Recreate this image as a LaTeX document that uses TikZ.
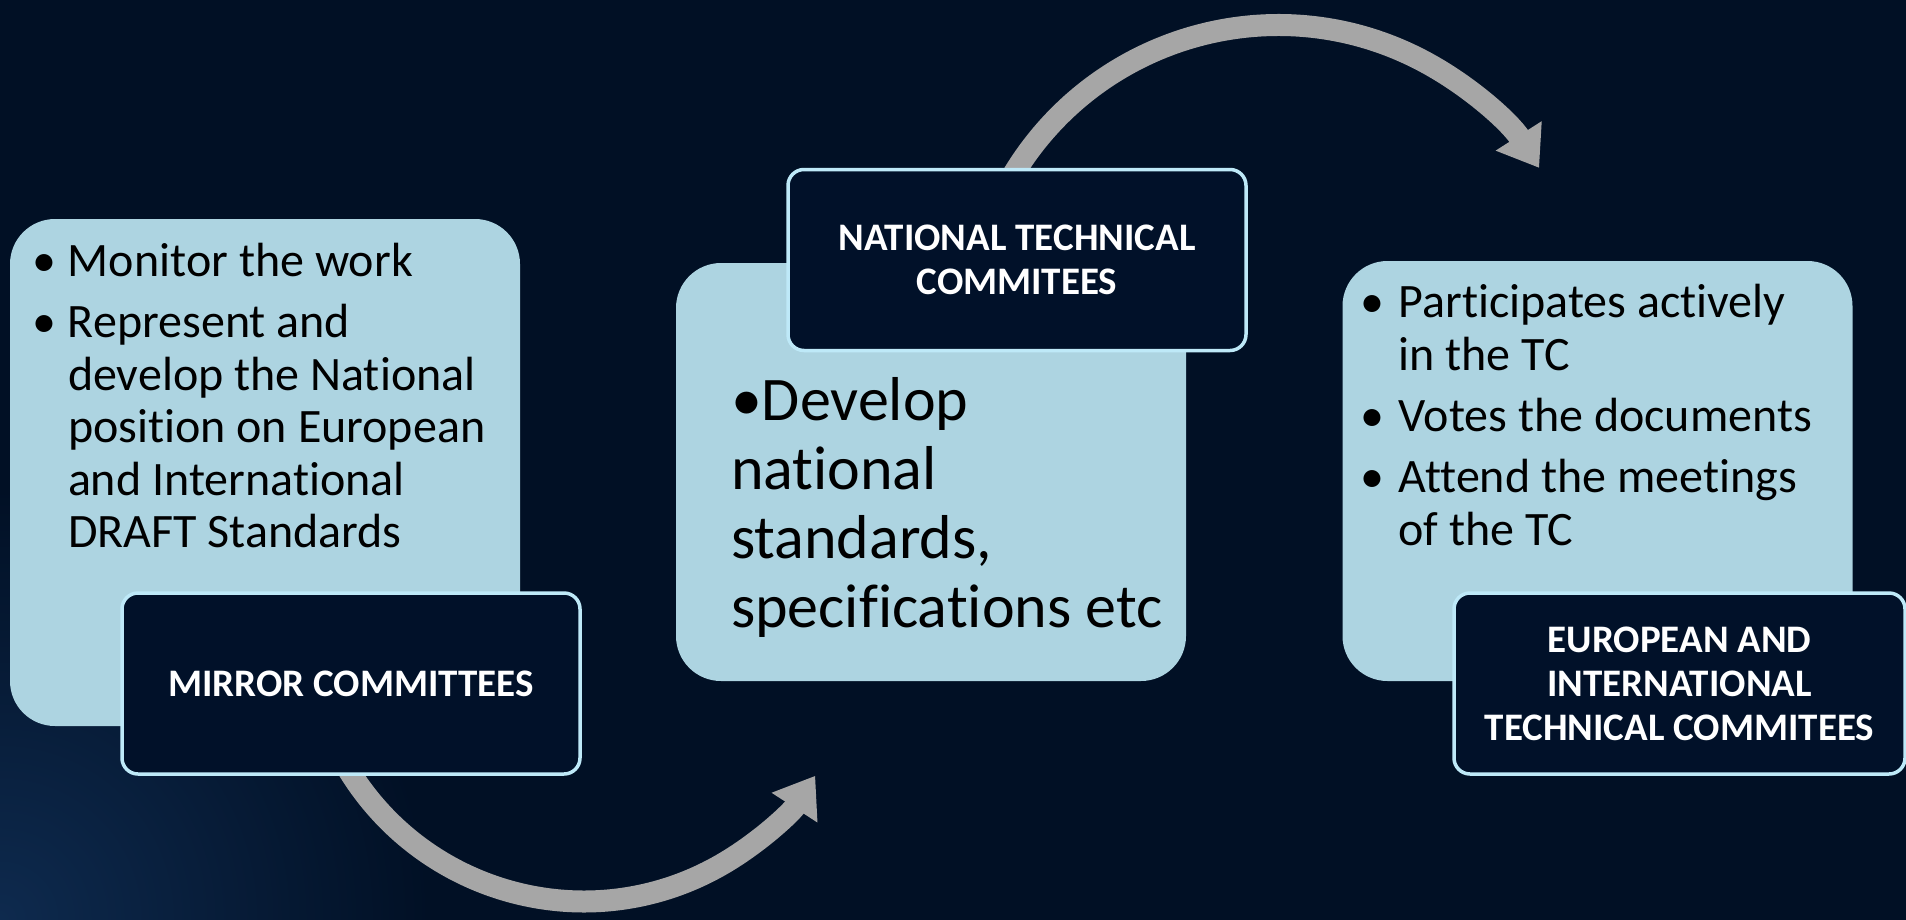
\documentclass[tikz,border=0pt]{standalone}
\usepackage{fontspec}
\setmainfont{Carlito}[Ligatures=NoCommon]
\usetikzlibrary{arrows.meta,calc}
\definecolor{bg}{RGB}{1,16,37}
\definecolor{glow}{RGB}{14,42,78}
\definecolor{lightfill}{RGB}{173,212,225}
\definecolor{darkfill}{RGB}{1,17,41}
\definecolor{darkline}{RGB}{190,233,248}
\definecolor{arrowgray}{RGB}{166,166,166}
\pgfdeclarelayer{bglayer}
\pgfdeclarelayer{arrowlayer}
\pgfsetlayers{bglayer,arrowlayer,main}
\begin{document}
\begin{tikzpicture}[x=1pt,y=-1pt,
  lightbox/.style={rectangle, rounded corners=45pt, fill=lightfill, inner sep=0pt, minimum width=510pt},
  darkbox/.style={rectangle, rounded corners=16pt, fill=darkfill, draw=darkline, line width=3.5pt,
    minimum width=458pt, minimum height=181pt, inner sep=0pt, text=white, align=center,
    font=\fontsize{39}{44}\selectfont\bfseries},
  bodytext/.style={inner sep=0pt, text=black, anchor=base west},
  flow/.style={draw=arrowgray, line width=22pt, -{Triangle[length=38pt,width=52pt]}}
]
\useasboundingbox (0,0) rectangle (1906,919);
\begin{pgfonlayer}{bglayer}
  \fill[bg] (-5,-5) rectangle (1911,924);
  \begin{scope}
    \clip (-5,-5) rectangle (1911,924);
    \shade[inner color=glow, outer color=bg] (0,919) circle [radius=430];
  \end{scope}
\end{pgfonlayer}

% light content boxes
\node[lightbox, minimum height=507pt] (b1) at (265,472.5) {};
\node[lightbox, minimum height=418pt] (b2) at (931,472) {};
\node[lightbox, minimum height=420pt] (b3) at (1597.5,471) {};

% dark title boxes
\node[darkbox] (mirror) at (351,683.5) {MIRROR COMMITTEES};
\node[darkbox] (nat) at (1017,260) {NATIONAL TECHNICAL\\COMMITEES};
\node[darkbox, minimum width=451pt] (euro) at (1679.5,683.5) {EUROPEAN AND\\INTERNATIONAL\\TECHNICAL COMMITEES};

% body texts
\node[bodytext] (t1) at ($(b1.north west)+(22,58)$) {\fontsize{48}{52.5}\selectfont
  \begin{tabular}[t]{@{}p{36pt}@{}l@{}}
  \textbullet & Monitor the work\\[8.5pt]
  \textbullet & Represent and\\
   & develop the National\\
   & position on European\\
   & and International\\
   & DRAFT Standards
  \end{tabular}};
\node[bodytext] (t2) at ($(b2.north west)+(55,158)$) {\fontsize{62}{69}\selectfont
  \begin{tabular}[t]{@{}l@{}}
  \textbullet Develop\\
  national\\
  standards,\\
  specifications etc
  \end{tabular}};
\node[bodytext] (t3) at ($(b3.north west)+(18,57)$) {\fontsize{48}{53}\selectfont
  \begin{tabular}[t]{@{}p{38pt}@{}l@{}}
  \textbullet & Participates actively\\
   & in the TC\\[8pt]
  \textbullet & Votes the documents\\[8pt]
  \textbullet & Attend the meetings\\
   & of the TC
  \end{tabular}};

% curved arrows (behind the title boxes)
\coordinate (c1) at ($(mirror.south west)+(463.5,-150.3)$);
\coordinate (c2) at ($(nat.north west)+(492,167)$);
\begin{pgfonlayer}{arrowlayer}
  \draw[flow] (c1) ++(150:276) arc[start angle=150, end angle=33, radius=276];
  \draw[flow] (c2) ++(208:309.7) arc[start angle=208, end angle=327.4, radius=309.7];
\end{pgfonlayer}
\end{tikzpicture}
\end{document}
